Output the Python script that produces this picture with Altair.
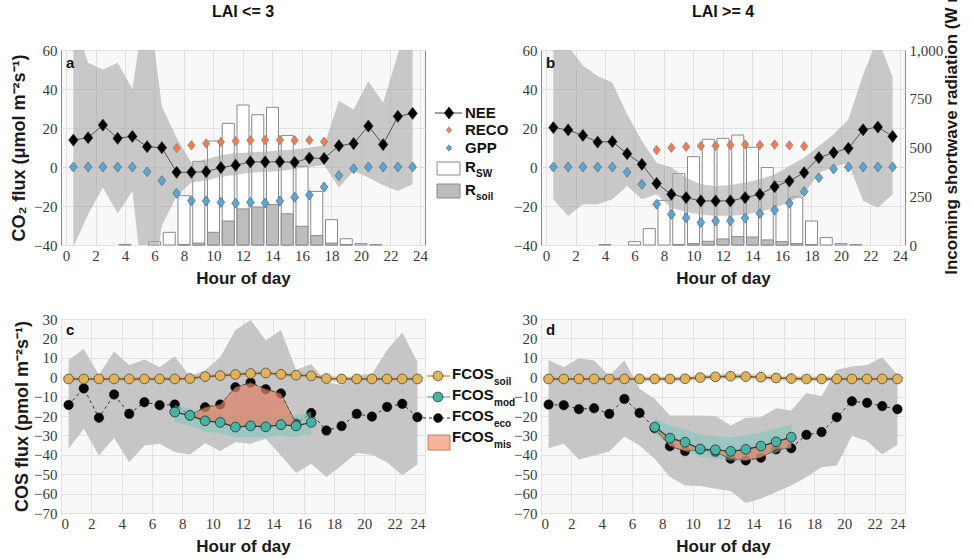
import altair as alt
import pandas as pd

# ---------------- data ----------------
HOURS = [h + 0.5 for h in range(24)]
BAR_HOURS = list(range(24))
RECO_HOURS = [7.5 + i for i in range(11)]
MOD_HOURS = [7.5 + i for i in range(10)]

# Panel a (LAI <= 3)
nee_a = [13.8, 15.0, 21.5, 14.7, 15.7, 10.4, 9.9, -2.7, -2.7, -2.4, -0.3, 0.9,
         2.6, 2.6, 2.7, 2.4, 4.6, 4.4, 10.9, 12.0, 21.0, 11.5, 26.0, 27.5]
reco_a = [9.7, 11.1, 12.0, 12.8, 13.3, 13.7, 13.8, 13.8, 13.7, 13.7, 13.0]
gpp_a = [0, 0, 0, 0, 0, -2.4, -7.0, -13.5, -17.3, -17.4, -18.1, -18.6,
         -18.1, -18.5, -17.4, -15.5, -14.4, -10.3, -4.4, -0.9, 0, 0, 0, 0]
nee_hi_a = [75, 53.5, 50, 53.5, 40, 90, 31, 15, 2, 4, 6, 7,
            7.5, 8, 8.5, 9, 10, 11, 34, 29.5, 44, 33, 58, 80]
nee_lo_a = [-41, -24.2, -10.5, -23.9, -12.3, -80, -30, -15, -8, -7, -5, -4,
            -3, -2.5, -2, -1, 0, 1, -10.5, -2, -5.4, -9.3, -12.3, -8.8]
sw_a = [0, 0, 0, 0, 3, 0, 17, 65, 253, 429, 533, 624,
        718, 668, 706, 562, 403, 275, 130, 32, 7, 2, 0, 0]
rsoil_a = [0, 0, 0, 0, 0, 0, 0, 0, 3, 10, 65, 123,
           185, 195, 207, 160, 96, 48, 10, 2, 0, 0, 0, 0]

# Panel b (LAI >= 4)
nee_b = [20.2, 19.0, 16.2, 12.8, 13.0, 6.8, 1.4, -8.4, -14.0, -15.7, -17.4, -17.4,
         -17.4, -15.7, -14.0, -10.1, -7.2, -2.9, 4.8, 7.4, 9.6, 19.1, 20.5, 15.7]
reco_b = [8.7, 9.9, 10.4, 10.8, 10.9, 11.3, 11.6, 11.3, 11.5, 11.1, 10.6]
gpp_b = [0, 0, 0, 0, 0, -2.7, -8.9, -19.1, -24.3, -26.0, -28.4, -27.7,
         -27.5, -26.2, -23.9, -22.1, -18.6, -12.6, -5.5, -1.0, 0, 0, 0, 0]
nee_hi_b = [75, 62, 52, 46.7, 43.2, 27, 13.3, 2.2, -0.3, -5.5, -8.9, -9.7,
            -9.2, -8, -6.3, -3.8, 0.5, 4.8, 10.8, 16.8, 24.4, 47.5, 66, 46]
nee_lo_b = [-16.6, -25.1, -19.1, -19.1, -16.6, -9.7, -16.6, -14.0, -21, -23, -24.5, -25,
            -25, -24.5, -23, -21, -18, -14, -3, 0, 2, -17.4, -20.9, -14]
sw_b = [0, 0, 0, 0, 2, 0, 17, 84, 229, 366, 453, 542,
        547, 564, 501, 397, 325, 246, 123, 38, 7, 2, 0, 0]
rsoil_b = [0, 0, 0, 0, 0, 0, 0, 0, 0, 2, 7, 19,
           31, 43, 41, 26, 17, 7, 2, 0, 0, 0, 0, 0]

# Panel c (LAI <= 3)
fsoil_c = [-0.9, -0.9, -0.9, -0.9, -0.9, -0.9, -0.9, -0.9, -0.7, 0.3, 0.8, 1.4,
           1.9, 2.2, 1.5, 1.0, 0.7, -0.7, -0.9, -0.9, -0.9, -0.9, -0.9, -0.9]
feco_c = [-14.3, -5.8, -20.9, -8.9, -18.9, -12.9, -14.4, -14.1, -19.7, -15.5, -14.1, -5.2,
          -2.8, -6.2, -8.4, -23.9, -18.5, -27.5, -25.2, -18.9, -20.3, -15.3, -13.7, -20.6]
feco_hi_c = [8.9, 14.6, 1.2, 13.2, 6.3, 9.1, 5.1, 10.8, 0.5, 3.6, 10.3, 24.3,
             29.5, 18.9, 24.3, 3.8, 6.8, -2.6, -4.0, 1.2, 1.7, 14.0, 23.1, 8]
feco_lo_c = [-36.9, -26.6, -40.3, -31.4, -43.8, -35.2, -34.3, -38.6, -39.8, -34, -38.1, -33.5,
             -34.3, -31.7, -40.3, -49.4, -44.6, -51.5, -45.5, -39.1, -40, -43.8, -50.6, -45]
fmod_c = [-18.0, -19.7, -22.5, -23.3, -25.7, -25.1, -25.6, -24.5, -25.1, -23.3]
fmod_hi_c = [-14.5, -16, -18, -19, -20, -20, -20, -19.5, -19.5, -18]
fmod_lo_c = [-23, -25, -28, -29, -31, -31, -31, -30, -31, -29]

# Panel d (LAI >= 4)
fsoil_d = [-0.9, -0.9, -0.9, -0.9, -0.9, -0.9, -0.9, -0.9, -0.9, -0.8, -0.2, 0.2,
           0.5, 0.3, 0.0, -0.4, -0.7, -0.9, -0.9, -0.9, -0.9, -0.9, -0.9, -0.9]
feco_d = [-14.1, -14.4, -16.5, -16.0, -18.9, -11.2, -18.4, -26.3, -35.6, -38.1, -37.2, -38.6,
          -42.0, -42.9, -41.5, -37.2, -36.6, -29.7, -28.3, -20.6, -12.4, -13.2, -14.9, -16.5]
feco_hi_d = [8.9, 5.1, 9.8, 8.6, 0.8, 8.6, -6.0, -11.2, -19.7, -19.7, -19.7, -20,
             -24.9, -20.9, -20.6, -16, -17.2, -8.1, -9.8, 3.8, 5.5, 6.3, 10.3, 1.2]
feco_lo_d = [-36.6, -34.3, -42.4, -40.3, -38.3, -30.6, -35.2, -42.0, -51.5, -55.8, -56.1, -57.5,
             -58.7, -64.9, -62.6, -59.2, -55.8, -51.5, -46.4, -45.5, -30.3, -32.9, -39.8, -34.8]
fmod_d = [-25.7, -31.4, -33.5, -37.0, -37.4, -38.2, -37.2, -35.5, -33.3, -30.9]
fmod_hi_d = [-21, -25, -27, -29.5, -30.5, -31, -30, -28.5, -26.5, -24.5]
fmod_lo_d = [-29, -35, -38, -41, -42, -43, -43, -41, -39, -36]

# ---------------- style ----------------
SANS = "Liberation Sans"
SERIF = "Liberation Serif"
DUMMY = pd.DataFrame({"k": [0]})
W, H_TOP, H_BOT = 364, 195, 194

TALL_DIAMOND = "M0,-1L0.78,0L0,1L-0.78,0Z"
C_GRAYBAND = "#a9a9a9"
C_RECO = "#ef7e4e"
C_GPP = "#5aa6d6"
C_SOIL = "#e2b158"
C_MOD = "#45b4a7"
C_MODBAND = "#74c6ba"
C_MIS = "#e08468"

LBL = dict(labelFont=SERIF, labelFontSize=15, labelColor="#3a3a3a", labelFontWeight="normal")

XSCALE = alt.Scale(domain=[0, 24], nice=False, zero=False)
XAXIS = alt.Axis(values=list(range(0, 25, 2)), title="Hour of day", grid=True,
                 labelPadding=3, titlePadding=7, format="d", **LBL)


def X(field="hour"):
    return alt.X(f"{field}:Q", scale=XSCALE, axis=XAXIS)


def txt(s, x, y, size=15, weight="bold", align="left", baseline="middle", color="#111", angle=0):
    return alt.Chart(DUMMY).mark_text(text=s, fontSize=size, fontWeight=weight, font=SANS,
                                      align=align, baseline=baseline, color=color,
                                      angle=angle).encode(x=alt.value(x), y=alt.value(y))


def hrule(x1, x2, y, color, width=1.0, dash=None):
    kw = dict(color=color, strokeWidth=width)
    if dash:
        kw["strokeDash"] = dash
    return alt.Chart(DUMMY).mark_rule(**kw).encode(x=alt.value(x1), x2=alt.value(x2), y=alt.value(y))


def sym(x, y, shape, fill, stroke, size, sw=0.8):
    return alt.Chart(DUMMY).mark_point(shape=shape, filled=True, fill=fill, stroke=stroke,
                                       strokeWidth=sw, size=size, opacity=1).encode(
        x=alt.value(x), y=alt.value(y))


def box(x1, x2, y1, y2, fill, stroke):
    return alt.Chart(DUMMY).mark_rect(fill=fill, stroke=stroke, strokeWidth=1).encode(
        x=alt.value(x1), x2=alt.value(x2), y=alt.value(y1), y2=alt.value(y2))


def co2_panel(letter, title, nee, reco, gpp, lo, hi, sw, rsoil, ytitle, right_axis, legend):
    yscale = alt.Scale(domain=[-40, 60], nice=False, zero=False)
    yaxis = alt.Axis(values=[-40, -20, 0, 20, 40, 60], orient="left", grid=True,
                     labelPadding=4, titlePadding=5, title=ytitle if ytitle else "",
                     titleFontSize=18, **LBL)

    df = pd.DataFrame({"hour": HOURS, "nee": nee, "gpp": gpp, "lo": lo, "hi": hi})
    df_reco = pd.DataFrame({"hour": RECO_HOURS, "reco": reco})
    df_bar = pd.DataFrame({"hour": BAR_HOURS, "sw": sw, "rsoil": rsoil})

    rscale = alt.Scale(domain=[0, 1000], nice=False, zero=False)
    if right_axis:
        raxis = alt.Axis(orient="right", values=[0, 250, 500, 750, 1000],
                         labelExpr="format(datum.value, ',')",
                         grid=False, labelPadding=4, titlePadding=1,
                         title="Incoming shortwave radiation (W m⁻²)",
                         titleAngle=270, titleBaseline="top", titleY=72, titleFontSize=17, **LBL)
    else:
        raxis = None

    sw_bars = alt.Chart(df_bar).transform_filter("datum.sw > 0").mark_bar(
        size=12, fill="white", stroke="#8a8a8a", strokeWidth=1).encode(
        x=X(), y=alt.Y("sw:Q", scale=rscale, axis=raxis), y2=alt.datum(0))
    soil_bars = alt.Chart(df_bar).transform_filter("datum.rsoil > 0").mark_bar(
        size=12, fill="#bdbdbd", stroke="#8a8a8a", strokeWidth=1).encode(
        x=X(), y=alt.Y("rsoil:Q", scale=rscale, axis=raxis), y2=alt.datum(0))
    rad = alt.layer(sw_bars, soil_bars)

    band = alt.Chart(df).mark_area(color=C_GRAYBAND, opacity=0.6, clip=True).encode(
        x=X(), y=alt.Y("hi:Q", scale=yscale, axis=yaxis), y2="lo:Q")
    line = alt.Chart(df).mark_line(color="#555555", strokeWidth=1).encode(
        x=X(), y=alt.Y("nee:Q", scale=yscale, axis=yaxis))
    reco_pts = alt.Chart(df_reco).mark_point(shape=TALL_DIAMOND, filled=True, fill=C_RECO,
                                            stroke="#777777", strokeWidth=0.6, size=90,
                                            opacity=1).encode(
        x=X(), y=alt.Y("reco:Q", scale=yscale, axis=yaxis))
    gpp_pts = alt.Chart(df).mark_point(shape=TALL_DIAMOND, filled=True, fill=C_GPP,
                                       stroke="#555555", strokeWidth=0.6, size=100,
                                       opacity=1).encode(
        x=X(), y=alt.Y("gpp:Q", scale=yscale, axis=yaxis))
    nee_pts = alt.Chart(df).mark_point(shape=TALL_DIAMOND, filled=True, fill="#000000",
                                       stroke="#333333", strokeWidth=0.6, size=150,
                                       opacity=1).encode(
        x=X(), y=alt.Y("nee:Q", scale=yscale, axis=yaxis))

    extras = [txt(letter, 5, 13, size=15), txt(title, W / 2, -38, size=16, align="center")]
    if legend:
        extras += [
            hrule(374, 401, 63, "#444444"),
            sym(388, 63, TALL_DIAMOND, "#000000", "#333333", 150, 0.6),
            txt("NEE", 404, 63),
            sym(388, 80, TALL_DIAMOND, C_RECO, "#777777", 45, 0.5),
            txt("RECO", 404, 80),
            sym(388, 98, TALL_DIAMOND, C_GPP, "#555555", 45, 0.5),
            txt("GPP", 404, 98),
            box(376, 399, 112, 125, "white", "#8a8a8a"),
            txt("R", 404, 117),
            txt("SW", 415, 124, size=10),
            box(376, 399, 134, 148, "#bdbdbd", "#8a8a8a"),
            txt("R", 404, 140),
            txt("soil", 415, 147, size=10),
        ]
    flux = alt.layer(band, line, reco_pts, gpp_pts, nee_pts, *extras)
    return alt.layer(rad, flux).resolve_scale(y="independent").properties(width=W, height=H_TOP)


def cos_panel(letter, fsoil, feco, lo, hi, fmod, mlo, mhi, mis_slice, ytitle, legend):
    yscale = alt.Scale(domain=[-70, 30], nice=False, zero=False)
    yaxis = alt.Axis(values=list(range(-70, 31, 10)), orient="left", grid=True,
                     labelPadding=4, titlePadding=2, title=ytitle if ytitle else "",
                     titleFontSize=18, **LBL)

    def Y(f):
        return alt.Y(f"{f}:Q", scale=yscale, axis=yaxis)

    df = pd.DataFrame({"hour": HOURS, "soil": fsoil, "eco": feco, "lo": lo, "hi": hi})
    dfm = pd.DataFrame({"hour": MOD_HOURS, "mod": fmod, "mlo": mlo, "mhi": mhi})
    a, b = mis_slice
    dmis = pd.DataFrame({"hour": HOURS[a:b], "eco": feco[a:b],
                         "mod": fmod[a - 7:b - 7]})

    layers = [
        alt.Chart(df).mark_area(color="#c6c6c6", clip=True).encode(x=X(), y=Y("hi"), y2="lo:Q"),
        alt.Chart(df).mark_line(color="#d9b466", strokeWidth=5, opacity=0.6).encode(x=X(), y=Y("soil")),
        alt.Chart(df).mark_line(color="#5a5a5a", strokeWidth=1.5).encode(x=X(), y=Y("soil")),
        alt.Chart(df).mark_line(color="#333333", strokeWidth=1, strokeDash=[3, 3]).encode(x=X(), y=Y("eco")),
        alt.Chart(df).mark_point(shape="circle", filled=True, fill="#050505", stroke="#050505",
                                 strokeWidth=0.5, size=90, opacity=1).encode(x=X(), y=Y("eco")),
        alt.Chart(dfm).mark_area(color=C_MODBAND, opacity=0.5).encode(x=X(), y=Y("mhi"), y2="mlo:Q"),
        alt.Chart(dmis).mark_area(color=C_MIS, opacity=0.72, stroke="#5a4a40",
                                  strokeWidth=0.8).encode(x=X(), y=Y("eco"), y2="mod:Q"),
        alt.Chart(dfm).mark_line(color="#3a3a3a", strokeWidth=1.2).encode(x=X(), y=Y("mod")),
        alt.Chart(dfm).mark_point(shape="circle", filled=True, fill=C_MOD, stroke="#2a2a2a",
                                  strokeWidth=0.8, size=95, opacity=1).encode(x=X(), y=Y("mod")),
        alt.Chart(df).mark_point(shape="circle", filled=True, fill=C_SOIL, stroke="#4a4a4a",
                                 strokeWidth=0.8, size=95, opacity=1).encode(x=X(), y=Y("soil")),
        txt(letter, 5, 11, size=15),
    ]
    if legend:
        layers += [
            hrule(366, 389, 57, "#dcb870", 2),
            sym(377, 57, "circle", C_SOIL, "#4a4a4a", 95),
            txt("FCOS", 391, 55),
            txt("soil", 433, 63, size=10),
            hrule(366, 389, 78, C_MOD, 1.2),
            sym(377, 78, "circle", C_MOD, "#2a2a2a", 95),
            txt("FCOS", 391, 76),
            txt("mod", 433, 84, size=10),
            hrule(362, 393, 99, "#222222", 1, [3, 3]),
            sym(377, 99, "circle", "#050505", "#050505", 75),
            txt("FCOS", 391, 97),
            txt("eco", 433, 105, size=10),
            box(367, 389, 116, 131, "#f7b49b", "#b88470"),
            txt("FCOS", 391, 118),
            txt("mis", 433, 126, size=10),
        ]
    return alt.layer(*layers).properties(width=W, height=H_BOT)


pa = co2_panel("a", "LAI <= 3", nee_a, reco_a, gpp_a, nee_lo_a, nee_hi_a, sw_a, rsoil_a,
               "CO₂ flux (μmol m⁻²s⁻¹)", False, True)
pb = co2_panel("b", "LAI >= 4", nee_b, reco_b, gpp_b, nee_lo_b, nee_hi_b, sw_b, rsoil_b,
               None, True, False)
pc = cos_panel("c", fsoil_c, feco_c, feco_lo_c, feco_hi_c, fmod_c, fmod_lo_c, fmod_hi_c,
               (8, 16), "COS flux (pmol m⁻²s⁻¹)", True)
pd_ = cos_panel("d", fsoil_d, feco_d, feco_lo_d, feco_hi_d, fmod_d, fmod_lo_d, fmod_hi_d,
                (7, 17), None, False)

chart = alt.concat(pa, pb, pc, pd_, columns=2, spacing={"row": 74, "column": 116},
                   bounds="flush").properties(
    padding={"left": 10, "top": -31, "right": 0, "bottom": 0}
).configure_view(
    fill="#f8f8f8", stroke="#8c8c8c", strokeWidth=1
).configure_axis(
    titleFont=SANS, titleFontSize=17, titleFontWeight="bold", titleColor="#1a1a1a",
    gridColor="#e2e2e2", gridWidth=1, domain=False, ticks=False
)

chart.save("out.html", embed_options={"renderer": "svg", "actions": False})
